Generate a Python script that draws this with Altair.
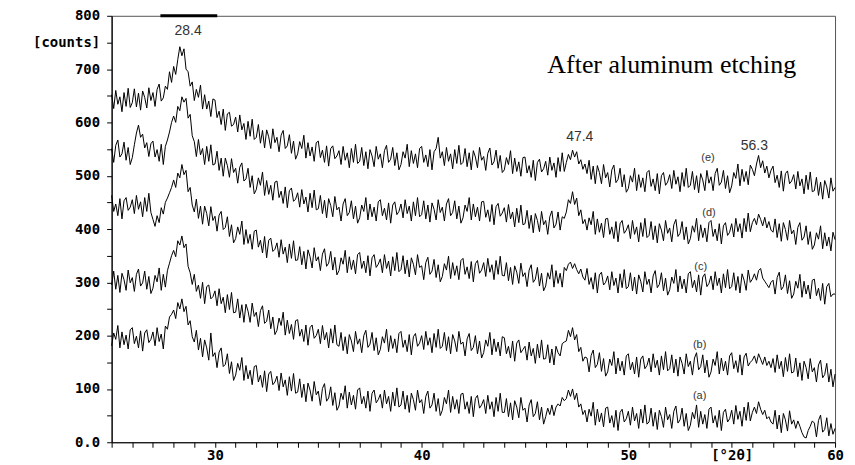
import altair as alt
import pandas as pd

# 2-theta sampling grid (degrees), 0.1 deg step from 25 to 60
two_theta = [round(25 + 0.1 * i, 1) for i in range(351)]

# counts, one row per degree (25.0 ... 59.9), then 60.0
series_e = [
    652, 626, 660, 634, 648, 620, 656, 630, 664, 628,
    637, 663, 629, 655, 623, 659, 647, 627, 665, 641,
    656, 630, 662, 672, 640, 646, 668, 662, 695, 675,
    705, 690, 718, 742, 725, 738, 700, 695, 668, 676,
    641, 662, 647, 670, 625, 652, 625, 640, 611, 644,
    642, 609, 621, 596, 625, 585, 616, 619, 593, 596,
    610, 582, 614, 586, 598, 568, 602, 574, 606, 568,
    572, 596, 561, 585, 552, 586, 573, 551, 588, 562,
    572, 545, 576, 585, 551, 556, 577, 542, 565, 531,
    541, 564, 551, 576, 533, 562, 537, 554, 527, 562,
    565, 534, 548, 525, 556, 518, 551, 556, 532, 537,
    547, 521, 555, 529, 543, 515, 551, 525, 559, 523,
    527, 553, 519, 545, 513, 549, 537, 517, 555, 531,
    541, 515, 547, 557, 525, 531, 553, 519, 543, 511,
    521, 545, 533, 559, 517, 547, 523, 541, 515, 551,
    555, 525, 539, 517, 549, 511, 545, 551, 572, 533,
    545, 519, 553, 527, 541, 513, 549, 523, 557, 521,
    525, 551, 517, 543, 511, 547, 535, 515, 553, 529,
    536, 510, 542, 552, 520, 526, 548, 514, 538, 506,
    511, 534, 521, 547, 504, 533, 508, 526, 499, 534,
    535, 505, 519, 497, 529, 491, 525, 531, 507, 513,
    527, 501, 535, 510, 524, 497, 534, 508, 543, 508,
    525, 540, 530, 548, 535, 545, 522, 530, 512, 522,
    504, 529, 493, 518, 485, 519, 506, 485, 521, 496,
    506, 479, 511, 520, 487, 493, 514, 479, 502, 469,
    476, 500, 488, 514, 472, 502, 478, 496, 470, 506,
    510, 480, 494, 472, 504, 466, 500, 506, 482, 488,
    502, 476, 510, 484, 498, 470, 506, 480, 514, 478,
    482, 508, 474, 500, 468, 504, 492, 472, 510, 486,
    498, 472, 504, 514, 482, 488, 510, 476, 500, 468,
    481, 506, 495, 522, 481, 512, 489, 508, 483, 520,
    512, 500, 522, 538, 515, 528, 505, 518, 496, 510,
    518, 487, 501, 478, 509, 471, 504, 509, 485, 490,
    502, 475, 508, 481, 494, 466, 501, 474, 507, 470,
    472, 497, 463, 488, 456, 491, 479, 458, 496, 471,
    478,
]

series_d = [
    551, 525, 557, 567, 535, 541, 563, 529, 553, 521,
    534, 558, 580, 595, 572, 578, 552, 562, 536, 560,
    565, 535, 549, 527, 559, 521, 555, 567, 582, 600,
    612, 600, 630, 622, 648, 638, 645, 608, 615, 575,
    564, 536, 568, 539, 551, 521, 555, 527, 558, 520,
    522, 546, 510, 533, 499, 533, 519, 497, 532, 506,
    514, 486, 516, 524, 490, 494, 514, 478, 500, 466,
    474, 496, 482, 507, 463, 491, 465, 482, 454, 488,
    490, 459, 471, 448, 479, 440, 472, 477, 452, 456,
    468, 441, 474, 447, 460, 432, 467, 440, 473, 436,
    438, 463, 429, 454, 421, 457, 444, 423, 461, 436,
    441, 415, 447, 457, 425, 431, 453, 419, 443, 411,
    421, 445, 433, 459, 417, 447, 423, 441, 415, 451,
    455, 425, 439, 417, 449, 411, 445, 451, 427, 433,
    447, 421, 455, 429, 443, 415, 451, 425, 459, 423,
    427, 453, 419, 445, 413, 449, 437, 417, 455, 431,
    441, 415, 447, 457, 425, 431, 453, 419, 443, 411,
    421, 445, 433, 459, 417, 447, 423, 441, 415, 451,
    452, 422, 436, 414, 446, 408, 442, 448, 424, 430,
    440, 413, 446, 419, 432, 404, 439, 412, 445, 408,
    410, 435, 401, 426, 393, 429, 416, 395, 433, 408,
    416, 390, 423, 434, 402, 409, 432, 398, 423, 420,
    432, 455, 448, 470, 446, 458, 425, 436, 410, 418,
    398, 421, 408, 433, 390, 419, 394, 411, 384, 419,
    420, 390, 404, 382, 414, 376, 410, 416, 392, 398,
    408, 382, 416, 390, 404, 376, 412, 386, 420, 384,
    388, 414, 380, 406, 374, 410, 398, 378, 416, 392,
    402, 376, 408, 418, 386, 392, 414, 380, 404, 372,
    382, 406, 394, 420, 378, 408, 384, 402, 376, 412,
    416, 386, 400, 378, 410, 372, 406, 412, 388, 394,
    410, 385, 420, 395, 410, 383, 420, 395, 430, 395,
    412, 420, 408, 428, 418, 406, 422, 402, 414, 398,
    394, 419, 384, 410, 377, 412, 399, 379, 416, 391,
    398, 371, 403, 412, 379, 385, 406, 371, 395, 362,
    370, 393, 381, 406, 363, 393, 368, 385, 359, 394,
    380,
]

series_c = [
    463, 433, 447, 425, 457, 419, 453, 459, 435, 441,
    455, 429, 463, 437, 451, 423, 459, 433, 467, 431,
    418, 405, 425, 412, 440, 428, 450, 458, 468, 478,
    492, 478, 505, 496, 521, 502, 510, 470, 478, 445,
    432, 456, 420, 443, 409, 443, 429, 406, 442, 416,
    424, 396, 426, 433, 399, 403, 423, 386, 408, 374,
    382, 404, 390, 415, 371, 399, 373, 390, 362, 396,
    398, 366, 379, 355, 386, 346, 379, 383, 358, 362,
    374, 347, 380, 353, 366, 337, 372, 345, 378, 341,
    342, 367, 333, 358, 325, 361, 348, 327, 365, 340,
    348, 322, 353, 363, 330, 336, 358, 323, 347, 314,
    322, 346, 334, 360, 318, 348, 324, 342, 316, 352,
    356, 326, 340, 318, 350, 312, 346, 352, 328, 334,
    344, 318, 352, 326, 340, 312, 348, 322, 356, 320,
    324, 350, 316, 342, 310, 346, 334, 314, 352, 328,
    331, 305, 337, 347, 315, 321, 343, 309, 333, 301,
    311, 335, 323, 349, 307, 337, 313, 331, 305, 341,
    345, 315, 329, 307, 339, 301, 335, 341, 317, 323,
    337, 311, 345, 319, 333, 305, 341, 315, 349, 313,
    312, 337, 303, 328, 296, 331, 319, 298, 336, 311,
    318, 292, 323, 333, 300, 306, 328, 293, 317, 284,
    293, 318, 306, 333, 291, 322, 298, 317, 291, 328,
    322, 334, 338, 326, 335, 324, 316, 325, 310, 304,
    326, 296, 309, 287, 318, 280, 314, 319, 295, 300,
    312, 286, 320, 294, 308, 280, 316, 290, 324, 288,
    292, 318, 284, 310, 278, 314, 302, 282, 320, 296,
    306, 280, 312, 322, 290, 296, 318, 284, 308, 276,
    286, 310, 298, 324, 282, 312, 288, 306, 280, 316,
    320, 290, 304, 282, 314, 276, 310, 316, 292, 298,
    312, 286, 320, 294, 308, 280, 316, 290, 324, 288,
    292, 318, 285, 311, 280, 316, 304, 285, 323, 300,
    306, 316, 304, 322, 326, 308, 302, 296, 290, 300,
    304, 278, 309, 319, 286, 292, 314, 279, 303, 270,
    278, 302, 289, 315, 272, 302, 278, 295, 269, 304,
    306, 275, 289, 266, 298, 259, 292, 298, 273, 278,
    278,
]

series_b = [
    295, 321, 287, 313, 281, 317, 305, 285, 323, 299,
    309, 283, 315, 325, 293, 299, 321, 287, 311, 279,
    289, 313, 301, 327, 285, 315, 291, 322, 336, 350,
    360, 348, 378, 370, 387, 365, 372, 330, 318, 296,
    315, 283, 295, 270, 300, 260, 292, 295, 269, 273,
    284, 256, 288, 260, 272, 243, 277, 249, 281, 243,
    244, 269, 233, 258, 225, 259, 246, 225, 261, 236,
    244, 217, 247, 256, 223, 227, 248, 213, 235, 202,
    210, 233, 219, 244, 201, 229, 204, 221, 193, 228,
    230, 199, 212, 189, 220, 182, 215, 220, 195, 200,
    212, 185, 219, 192, 206, 177, 213, 186, 220, 183,
    180, 206, 172, 198, 166, 202, 190, 170, 208, 184,
    194, 168, 200, 210, 178, 184, 206, 172, 196, 164,
    174, 198, 186, 212, 170, 200, 176, 194, 168, 204,
    208, 178, 192, 170, 202, 164, 198, 204, 180, 186,
    200, 174, 208, 182, 196, 168, 204, 178, 212, 176,
    180, 206, 172, 198, 166, 202, 190, 170, 208, 184,
    188, 162, 194, 204, 172, 178, 200, 166, 190, 158,
    168, 192, 180, 206, 164, 194, 170, 188, 162, 198,
    196, 166, 180, 158, 190, 152, 186, 192, 168, 174,
    180, 154, 188, 162, 176, 148, 184, 158, 192, 156,
    157, 183, 149, 175, 145, 180, 168, 162, 185, 188,
    190, 210, 198, 215, 192, 202, 170, 178, 152, 160,
    158, 132, 163, 173, 140, 146, 168, 133, 157, 124,
    132, 156, 144, 170, 128, 158, 134, 152, 126, 162,
    166, 136, 150, 128, 160, 122, 156, 162, 138, 144,
    158, 132, 166, 140, 154, 126, 162, 136, 170, 134,
    138, 164, 130, 156, 124, 160, 148, 128, 166, 142,
    152, 126, 158, 168, 136, 142, 164, 130, 154, 122,
    132, 156, 144, 170, 128, 158, 134, 152, 126, 162,
    168, 138, 153, 131, 164, 126, 160, 167, 143, 150,
    154, 162, 148, 166, 156, 146, 160, 144, 152, 140,
    157, 131, 164, 138, 152, 123, 159, 133, 166, 130,
    132, 158, 123, 149, 116, 152, 140, 119, 157, 132,
    140, 113, 145, 154, 121, 127, 148, 113, 137, 104,
    128,
]

series_a = [
    181, 205, 193, 219, 177, 207, 183, 201, 175, 211,
    215, 185, 199, 177, 209, 171, 205, 211, 187, 193,
    207, 181, 215, 189, 203, 175, 218, 212, 235, 240,
    248, 232, 262, 250, 269, 245, 255, 220, 228, 198,
    188, 210, 173, 195, 160, 192, 177, 154, 205, 161,
    168, 140, 169, 177, 142, 146, 166, 129, 151, 116,
    126, 148, 135, 159, 116, 144, 119, 135, 108, 142,
    144, 113, 126, 103, 134, 95, 128, 133, 108, 113,
    124, 97, 130, 104, 117, 88, 123, 96, 129, 92,
    94, 119, 84, 109, 76, 111, 98, 77, 114, 89,
    96, 69, 101, 110, 77, 83, 104, 69, 93, 60,
    68, 92, 80, 106, 64, 94, 70, 88, 62, 98,
    102, 72, 86, 64, 96, 58, 92, 98, 74, 80,
    90, 64, 98, 72, 86, 58, 94, 68, 102, 66,
    70, 96, 62, 88, 56, 92, 80, 60, 98, 74,
    80, 54, 86, 96, 64, 70, 92, 58, 82, 50,
    60, 84, 72, 98, 56, 86, 62, 80, 54, 90,
    92, 62, 76, 54, 86, 48, 82, 88, 64, 70,
    80, 54, 88, 62, 76, 48, 84, 58, 92, 56,
    56, 82, 48, 74, 42, 78, 66, 46, 84, 60,
    64, 38, 70, 80, 48, 54, 76, 42, 66, 34,
    48, 64, 52, 70, 50, 66, 72, 68, 84, 78,
    82, 98, 86, 100, 80, 92, 66, 72, 52, 60,
    38, 62, 49, 75, 32, 62, 38, 55, 29, 64,
    66, 36, 50, 28, 60, 22, 56, 62, 38, 44,
    58, 32, 66, 40, 54, 26, 62, 36, 70, 34,
    38, 64, 30, 56, 24, 60, 48, 28, 66, 42,
    52, 26, 58, 68, 36, 42, 64, 30, 54, 22,
    32, 56, 44, 70, 28, 58, 34, 52, 26, 62,
    66, 36, 50, 28, 60, 22, 56, 62, 38, 44,
    60, 34, 69, 43, 58, 30, 66, 41, 75, 40,
    56, 66, 54, 76, 62, 52, 60, 44, 48, 38,
    34, 60, 25, 51, 18, 54, 42, 21, 59, 34,
    42, 26, 40, 30, 18, 10, 8, 22, 30, 40,
    36, 10, 41, 51, 19, 24, 46, 12, 35, 15,
    26,
]

series_names = ["(a)", "(b)", "(c)", "(d)", "(e)"]
series_values = [series_a, series_b, series_c, series_d, series_e]

# series label positions (2theta, counts)
label_x = [53.45, 53.45, 53.5, 53.9, 53.85]
label_y = [86, 183, 329, 430, 533]

# peak annotations
peak_text = ["28.4", "47.4", "56.3"]
peak_x = [28.7, 47.65, 56.1]
peak_y = [772, 572, 555]

rows = []
for name, vals in zip(series_names, series_values):
    for xv, yv in zip(two_theta, vals):
        rows.append({"x": xv, "y": yv, "s": name})
df = pd.DataFrame(rows)

lab_df = pd.DataFrame({"t": series_names, "x": label_x, "y": label_y})
peak_df = pd.DataFrame({"t": peak_text, "x": peak_x, "y": peak_y})

xscale = alt.Scale(domain=[25, 60], nice=False, zero=False)
yscale = alt.Scale(domain=[0, 800], nice=False)

mono = "DejaVu Sans Mono"

x_axis = alt.Axis(
    values=list(range(25, 61)),
    labelExpr="datum.value % 10 == 0 ? datum.label : (datum.value == 55 ? '[°2θ]' : '')",
    tickSize=5, tickColor="black", tickWidth=1, domainColor="black", domainWidth=1.2,
    labelFont=mono, labelFontWeight="bold", labelFontSize=14, labelColor="black",
    labelPadding=1, labelFlush=False, labelOverlap=False, labelBaseline="top",
    grid=False, title=None,
)
y_axis = alt.Axis(
    values=list(range(0, 801, 50)),
    labelExpr="datum.value == 750 ? '[counts]' : (datum.value == 0 ? '0.0' : (datum.value % 100 == 0 ? datum.label : ''))",
    tickSize=5, tickColor="black", tickWidth=1, domainColor="black", domainWidth=1.2,
    labelFont=mono, labelFontWeight="bold", labelFontSize=14, labelColor="black",
    labelPadding=7, labelOverlap=False, grid=False, title=None,
)


def xenc(field):
    return alt.X(field, scale=xscale, axis=x_axis)


def yenc(field):
    return alt.Y(field, scale=yscale, axis=y_axis)


lines = alt.Chart(df).mark_line(color="black", strokeWidth=1).encode(
    x=xenc("x:Q"), y=yenc("y:Q"), detail="s:N",
)

top_bar = alt.Chart(pd.DataFrame({"a": [27.36], "b": [30.11]})).mark_rule(
    color="black", strokeWidth=3
).encode(x=xenc("a:Q"), x2="b:Q", y=alt.value(0))

peaks = alt.Chart(peak_df).mark_text(
    font="Liberation Sans", fontSize=14, color="#333", baseline="middle"
).encode(x=xenc("x:Q"), y=yenc("y:Q"), text="t:N")

labels = alt.Chart(lab_df).mark_text(
    font="Liberation Sans", fontSize=11, color="#333", baseline="middle"
).encode(x=xenc("x:Q"), y=yenc("y:Q"), text="t:N")

title_text = alt.Chart(
    pd.DataFrame({"t": ["After aluminum etching"], "x": [52.1], "y": [692]})
).mark_text(
    font="Liberation Serif", fontSize=26, color="black", baseline="alphabetic"
).encode(x=xenc("x:Q"), y=yenc("y:Q"), text="t:N")

chart = alt.layer(lines, top_bar, peaks, labels, title_text).properties(
    width=726, height=428,
    autosize=alt.AutoSizeParams(type="none"),
    padding={"left": 104, "top": 7, "right": 12, "bottom": 21},
    background="white",
).configure_view(stroke="#555", strokeWidth=1)

chart.save("out.html", embed_options={"renderer": "svg", "actions": False})
